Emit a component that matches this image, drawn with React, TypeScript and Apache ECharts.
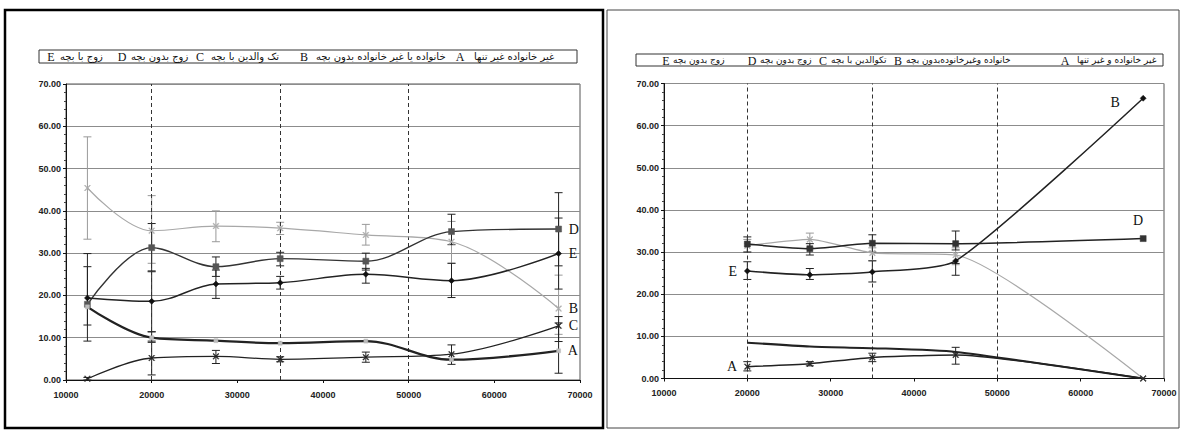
import React, { useEffect, useRef } from 'react';
import * as echarts from 'echarts';

// ---------- data ----------
const dashedX = [20000, 35000, 50000];

const leftX = [12500, 20000, 27500, 35000, 45000, 55000, 67500];
const leftA = [17.3, 10.0, 9.3, 8.7, 9.2, 4.8, 6.9];
const leftB = [45.4, 35.3, 36.4, 35.9, 34.3, 32.7, 16.9];
const leftC = [0.3, 5.2, 5.6, 4.9, 5.4, 6.1, 12.8];
const leftD = [17.9, 31.3, 26.8, 28.7, 28.1, 35.1, 35.7];
const leftE = [19.4, 18.6, 22.7, 23.0, 25.0, 23.5, 29.9];

// error bars: [x, low, high]
const leftErrA = [[20000, 8.9, 11.4], [67500, 1.6, 13.5]];
const leftErrB = [[12500, 33.3, 57.5], [20000, 27.6, 43.6], [27500, 32.7, 40.0], [35000, 34.4, 37.3], [45000, 31.9, 36.8], [55000, 27.6, 37.5], [67500, 10.8, 24.8]];
const leftErrC = [[12500, 0.0, 0.6], [20000, 1.2, 9.2], [27500, 3.9, 7.0], [35000, 4.3, 5.5], [45000, 4.2, 6.6], [55000, 3.7, 8.3], [67500, 9.1, 15.0]];
const leftErrD = [[12500, 9.2, 26.8], [20000, 25.6, 37.0], [27500, 24.5, 29.1], [35000, 27.0, 30.2], [45000, 26.0, 30.0], [55000, 32.0, 39.2], [67500, 27.0, 44.3]];
const leftErrE = [[12500, 13.0, 29.9], [20000, 11.4, 25.8], [27500, 19.3, 26.0], [35000, 21.5, 24.5], [45000, 22.9, 26.4], [55000, 19.5, 27.6], [67500, 21.5, 38.3]];

const rightX = [20000, 27500, 35000, 45000, 67500];
const rightA = [2.8, 3.5, 5.0, 5.6, 0];
const rightB = [31.5, 33.0, 29.8, 29.3, 0];
const rightC = [8.5, 7.6, 7.2, 6.3, 0];
const rightD = [31.9, 30.8, 32.1, 32.0, 33.2];
const rightE = [25.5, 24.6, 25.3, 27.9, 66.5];

const rightErrA = [[20000, 1.8, 4.0], [27500, 3.0, 4.0], [35000, 4.0, 6.0], [45000, 3.4, 7.4]];
const rightErrB = [[20000, 30.0, 33.0], [27500, 31.0, 34.5], [35000, 28.0, 31.0], [45000, 27.0, 31.0]];
const rightErrD = [[20000, 30.0, 33.6], [27500, 29.3, 32.0], [35000, 30.0, 34.1], [45000, 30.5, 35.0]];
const rightErrE = [[20000, 23.5, 27.7], [27500, 23.5, 26.1], [35000, 22.9, 27.9], [45000, 24.5, 27.3]];

const legendLetters = ['E', 'D', 'C', 'B', 'A'];
const leftLegendNames = ['زوج با بچه', 'زوج بدون بچه', 'تک والدین با بچه', 'خانواده یا غیر خانواده بدون بچه', 'غیر خانواده غیر تنها'];
const rightLegendNames = ['زوج بدون بچه', 'زوج بدون بچه', 'تکوالدین با بچه', 'خانواده وغیرخانوده\u200cبدون بچه', 'غیر خانواده و غیر تنها'];

// ---------- layout ----------
const leftLegendLetterX = [51, 122, 200, 304, 460];
const leftLegendNameX = [60, 131, 211, 316, 474];
const rightLegendLetterX = [666, 752, 823, 898, 1065];
const rightLegendNameX = [673, 760, 831, 906, 1077];

const DARK = '#222';
const GRAY = '#a8a8a8';
const SERIF = '"Liberation Serif", "Times New Roman", serif';
const SANS = '"Liberation Sans", Arial, sans-serif';
const XSYM = 'path://M0,1L1,0L5,4L9,0L10,1L6,5L10,9L9,10L5,6L1,10L0,9L4,5Z';

function letterLabel(text: string, position: any, distance: number, offset?: number[]) {
  return {
    show: true, formatter: text, position, distance, offset: offset || [0, 0],
    fontFamily: SERIF, fontSize: 14, color: '#111',
  };
}

function buildData(xs: number[], ys: number[], labels: Record<number, any>) {
  return xs.map((x, i) => (labels[i] ? { value: [x, ys[i]], label: labels[i] } : { value: [x, ys[i]] }));
}

function errSeries(data: number[][], idx: number, color: string) {
  return {
    type: 'custom', xAxisIndex: idx, yAxisIndex: idx, data, z: 3, silent: true,
    encode: { x: 0, y: [1, 2] },
    renderItem: (params: any, api: any) => {
      const x = api.value(0), lo = api.value(1), hi = api.value(2);
      const a = api.coord([x, lo]);
      const b = api.coord([x, hi]);
      const w = 4;
      const style = { stroke: color, lineWidth: 1 };
      return {
        type: 'group', children: [
          { type: 'line', shape: { x1: a[0], y1: a[1], x2: b[0], y2: b[1] }, style },
          { type: 'line', shape: { x1: a[0] - w, y1: a[1], x2: a[0] + w, y2: a[1] }, style },
          { type: 'line', shape: { x1: b[0] - w, y1: b[1], x2: b[0] + w, y2: b[1] }, style },
        ],
      };
    },
  };
}

function lineSeries(name: string, idx: number, data: any[], color: string, width: number, symbol: string, symbolSize: number, symColor: string, extra?: any) {
  return Object.assign({
    name, type: 'line', xAxisIndex: idx, yAxisIndex: idx, data, smooth: idx === 0 ? 0.35 : 0.2,
    symbol, symbolSize, showSymbol: true, z: 5,
    lineStyle: { color, width },
    itemStyle: { color: symColor, borderColor: symColor, borderWidth: 0.5 },
    label: { show: false },
  }, extra || {});
}

function axisPair(idx: number) {
  const xAxis = {
    type: 'value', gridIndex: idx, min: 10000, max: 70000, interval: 10000,
    axisLine: { show: true, onZero: false, lineStyle: { color: '#111', width: 1 } },
    axisTick: { show: true, length: 3, lineStyle: { color: '#111' } },
    splitLine: { show: false },
    axisLabel: { fontSize: 9, fontWeight: 'bold', color: '#222', margin: 10, fontFamily: SANS, formatter: (v: number) => String(v) },
  };
  const yAxis = {
    type: 'value', gridIndex: idx, min: 0, max: 70, interval: 10,
    axisLine: { show: true, onZero: false, lineStyle: { color: '#111', width: 1 } },
    axisTick: { show: true, length: 3, lineStyle: { color: '#111' } },
    minorTick: { show: true, splitNumber: 5, length: 2, lineStyle: { color: '#444' } },
    splitLine: { show: true, lineStyle: { color: '#8c8c8c', width: 1 } },
    axisLabel: { fontSize: 9, fontWeight: 'bold', color: '#222', margin: 5, fontFamily: SANS, formatter: (v: number) => v.toFixed(2) },
  };
  return { xAxis, yAxis };
}

function dashedMarkLine() {
  return {
    symbol: 'none', silent: true, label: { show: false },
    lineStyle: { type: [4, 3], color: '#333', width: 1 },
    data: dashedX.map((v) => ({ xAxis: v })),
  };
}

function legendGraphics(x: number, y: number, w: number, h: number, letterX: number[], nameX: number[], names: string[], fontSize: number) {
  const cy = y + h / 2;
  const els: any[] = [
    { type: 'rect', shape: { x, y, width: w, height: h }, style: { fill: '#fff', stroke: '#333', lineWidth: 1 } },
  ];
  legendLetters.forEach((l, i) => {
    els.push({ type: 'text', x: letterX[i], y: cy + 0.5, style: { text: l, fill: '#111', font: `12px ${SERIF}`, align: 'center', verticalAlign: 'middle' } });
    els.push({ type: 'text', x: nameX[i], y: cy, style: { text: names[i], fill: '#111', font: `${fontSize}px "DejaVu Sans", sans-serif`, align: 'left', verticalAlign: 'middle' } });
  });
  return els;
}

export default function App() {
  const ref = useRef<HTMLDivElement>(null);
  useEffect(() => {
    if (!ref.current) return;
    const chart = echarts.init(ref.current, undefined, { renderer: 'svg' });
    const L = axisPair(0);
    const R = axisPair(1);

    const leftLastLabel = (t: string) => ({ 6: letterLabel(t, 'right', 7) });

    const option: any = {
      animation: false,
      backgroundColor: '#fff',
      textStyle: { fontFamily: SANS },
      grid: [
        { left: 66, top: 84, width: 514, height: 296, show: true, borderColor: '#555', borderWidth: 1, backgroundColor: 'transparent' },
        { left: 664, top: 83.5, width: 500, height: 295, show: true, borderColor: '#555', borderWidth: 1, backgroundColor: 'transparent' },
      ],
      xAxis: [L.xAxis, R.xAxis],
      yAxis: [L.yAxis, R.yAxis],
      graphic: [
        { type: 'rect', shape: { x: 5, y: 10, width: 598, height: 418 }, style: { fill: 'none', stroke: '#000', lineWidth: 2.5 }, z: 100 },
        { type: 'rect', shape: { x: 607, y: 10, width: 572, height: 418 }, style: { fill: 'none', stroke: '#444', lineWidth: 1 }, z: 100 },
        ...legendGraphics(39, 50, 538, 13, leftLegendLetterX, leftLegendNameX, leftLegendNames, 10),
        ...legendGraphics(636, 54, 527, 12, rightLegendLetterX, rightLegendNameX, rightLegendNames, 9),
      ],
      series: [
        // left error bars
        errSeries(leftErrB, 0, '#999'),
        errSeries(leftErrD, 0, DARK),
        errSeries(leftErrE, 0, DARK),
        errSeries(leftErrC, 0, DARK),
        errSeries(leftErrA, 0, DARK),
        // left lines
        lineSeries('B', 0, buildData(leftX, leftB, leftLastLabel('B')), GRAY, 1.2, XSYM, 6, '#aaa', { markLine: dashedMarkLine() }),
        lineSeries('D', 0, buildData(leftX, leftD, leftLastLabel('D')), '#333', 1.4, 'rect', 6, '#555'),
        lineSeries('E', 0, buildData(leftX, leftE, leftLastLabel('E')), DARK, 1.5, 'diamond', 6, '#111'),
        lineSeries('C', 0, buildData(leftX, leftC, leftLastLabel('C')), DARK, 1.3, XSYM, 6, '#222'),
        lineSeries('A', 0, buildData(leftX, leftA, leftLastLabel('A')), DARK, 2.3, 'rect', 4, '#bbb'),
        // right error bars
        errSeries(rightErrB, 1, '#999'),
        errSeries(rightErrD, 1, DARK),
        errSeries(rightErrE, 1, DARK),
        errSeries(rightErrA, 1, DARK),
        // right lines
        lineSeries('B', 1, buildData(rightX, rightB, {}), GRAY, 1.2, XSYM, 6, '#aaa', { markLine: dashedMarkLine() }),
        lineSeries('D', 1, buildData(rightX, rightD, { 4: letterLabel('D', 'top', 8, [-5, 0]) }), DARK, 1.5, 'rect', 6, '#333'),
        lineSeries('E', 1, buildData(rightX, rightE, { 0: letterLabel('E', 'left', 7), 4: letterLabel('B', 'left', 20, [0, 4]) }), DARK, 1.5, 'diamond', 6, '#111'),
        lineSeries('C', 1, buildData(rightX, rightC, { 0: letterLabel('C', 'left', 7) }), DARK, 2.0, 'none', 4, '#bbb'),
        lineSeries('A', 1, buildData(rightX, rightA, { 0: letterLabel('A', 'left', 7) }), DARK, 1.5, XSYM, 6, '#222'),
      ],
    };
    chart.setOption(option);
    return () => chart.dispose();
  }, []);
  return <div ref={ref} style={{ position: 'absolute', left: 0, top: 0, width: 1182, height: 433 }} />;
}
